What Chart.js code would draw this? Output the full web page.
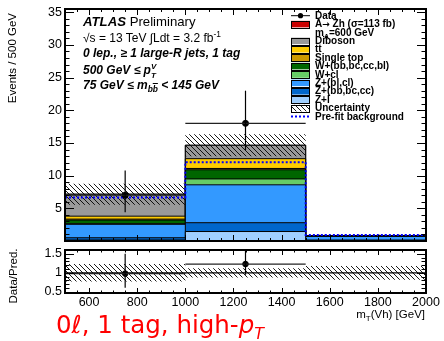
<!DOCTYPE html>
<html><head><meta charset="utf-8">
<script src="https://cdn.jsdelivr.net/npm/chart.js@4.4.0/dist/chart.umd.min.js"></script>
<style>
html,body{margin:0;padding:0;background:#fff;}
#wrap{position:relative;width:444px;height:341px;overflow:hidden;font-family:"Liberation Sans",Arial,sans-serif;color:#000;}
#c1{position:absolute;left:0;top:0;}
#c2{position:absolute;left:0;top:245px;}
.t{position:absolute;white-space:nowrap;line-height:1;}
.bi{font-weight:bold;font-style:italic;}
sub,sup{font-size:70%;line-height:0;}
.lg{position:absolute;left:315px;font-size:10px;font-weight:bold;line-height:10px;white-space:nowrap;}
.arr{font-family:'DejaVu Sans',sans-serif;font-size:9px;}
</style></head><body>
<div id="wrap">
<canvas id="c1" width="444" height="250"></canvas>
<canvas id="c2" width="444" height="96"></canvas>

<div class="t" style="left:5px;top:123px;width:110px;text-align:right;font-size:11.5px;line-height:14px;transform-origin:0 0;transform:rotate(-90deg);">Events / 500 GeV</div>
<div class="t" style="left:6px;top:314px;width:76px;text-align:center;font-size:11.5px;line-height:14px;transform-origin:0 0;transform:rotate(-90deg);">Data/Pred.</div>

<div class="t" style="left:83px;top:15px;font-size:13.2px;"><span class="bi">ATLAS</span> Preliminary</div>
<div class="t" style="left:83px;top:32px;font-size:12px;">&#8730;s = 13 TeV &#8747;Ldt = 3.2 fb<sup>-1</sup></div>
<div class="t bi" style="left:83px;top:47px;font-size:12px;">0 lep., &#8805; 1 large-R jets, 1 tag</div>
<div class="t bi" style="left:83px;top:62px;font-size:12px;">500 GeV &#8804; p<span style="display:inline-block;vertical-align:-4px;line-height:9px;font-size:8px;">V<br>T</span></div>
<div class="t bi" style="left:83px;top:79px;font-size:12px;">75 GeV &#8804; m<sub>b<span style="text-decoration:overline">b</span></sub> &lt; 145 GeV</div>

<div class="lg" style="top:10.7px;">Data</div>
<div class="lg" style="top:19.1px;">A<span class="arr">&#8594;</span> Zh (&#963;=113 fb)</div>
<div class="lg" style="top:27.5px;">m<sub>A</sub>=600 GeV</div>
<div class="lg" style="top:35.9px;">Diboson</div>
<div class="lg" style="top:44.3px;">tt</div>
<div class="lg" style="top:52.7px;">Single top</div>
<div class="lg" style="top:61.1px;">W+(bb,bc,cc,bl)</div>
<div class="lg" style="top:69.5px;">W+cl</div>
<div class="lg" style="top:77.9px;">Z+(bl,cl)</div>
<div class="lg" style="top:86.3px;">Z+(bb,bc,cc)</div>
<div class="lg" style="top:94.7px;">Z+l</div>
<div class="lg" style="top:103.1px;">Uncertainty</div>
<div class="lg" style="top:111.5px;">Pre-fit background</div>

<div class="t" style="right:19px;top:309px;font-size:11.5px;">m<sub>T</sub>(Vh) [GeV]</div>
<div class="t" style="left:56px;top:313px;font-size:24.5px;font-family:'DejaVu Sans',sans-serif;color:#ff0000;">0&#8467;, 1 tag, high-<i>p</i><sub style="font-style:italic;font-size:65%;">T</sub></div>
</div>
<script>
// ---------------- data ----------------
const binEdges   = [500, 1000, 1500, 2000];
const zLight     = [0.15, 1.45, 0.05];
const zHeavy     = [0.35, 1.35, 0.10];
const zBlCl      = [2.05, 5.80, 0.55];
const wCl        = [0.10, 0.90, 0.00];
const wHeavy     = [0.55, 1.40, 0.05];
const singleTop  = [0.15, 0.20, 0.00];
const ttbar      = [0.45, 1.50, 0.05];
const diboson    = [3.36, 2.05, 0.00];
const signalAZh  = [0.00, 0.00, 0.00];
const bkgUncert  = [1.60, 1.70, 0.14];
const prefitBkg  = [6.65, 12.05, 0.90];
const dataCounts = [7, 18, 0];
const dataErrLo  = [2.60, 4.10, 0];
const dataErrHi  = [3.80, 5.00, 0];
const ratioVals  = [0.98, 1.23, null];
const ratioErrLo = [0.37, 0.28, 0];
const ratioErrHi = [0.52, 0.35, 0];
const ratioBand  = [0.23, 0.12, 0.18];
const yTicksMain = [5, 10, 15, 20, 25, 30, 35];
const yTicksRatio = [0.5, 1, 1.5];
const xTickLabels = [600, 800, 1000, 1200, 1400, 1600, 1800, 2000];

// ---------------- helpers ----------------
const FONT = "'Liberation Sans', Arial, sans-serif";
function stepPts(vals){
  const p = vals.map((v,i)=>({x:binEdges[i], y:v}));
  p.push({x:binEdges[binEdges.length-1], y:vals[vals.length-1]});
  return p;
}
const centers = binEdges.slice(0,-1).map((e,i)=>(e+binEdges[i+1])/2);

function makeHatch(){
  const s = 5, c = document.createElement('canvas');
  c.width = s; c.height = s;
  const g = c.getContext('2d');
  g.strokeStyle = '#000'; g.lineWidth = 0.9;
  g.beginPath();
  g.moveTo(-1,-1); g.lineTo(s+1,s+1);
  g.moveTo(-1,s-1); g.lineTo(1,s+1);
  g.moveTo(s-1,-1); g.lineTo(s+1,1);
  g.stroke();
  return g.createPattern(c,'repeat');
}
const ctx1 = document.getElementById('c1').getContext('2d');
const hatch = makeHatch();

const components = [
  {label:'Z+l', vals:zLight, color:'#a0cfff'},
  {label:'Z+(bb,bc,cc)', vals:zHeavy, color:'#0066cc'},
  {label:'Z+(bl,cl)', vals:zBlCl, color:'#3399ff'},
  {label:'W+cl', vals:wCl, color:'#66cc66'},
  {label:'W+(bb,bc,cc,bl)', vals:wHeavy, color:'#006600'},
  {label:'Single top', vals:singleTop, color:'#cc9900'},
  {label:'tt', vals:ttbar, color:'#ffcc00'},
  {label:'Diboson', vals:diboson, color:'#999999'},
  {label:'A→Zh', vals:signalAZh, color:'#cc0000'}
];
let cum = [0,0,0];
const datasets = [];
components.forEach((c,i)=>{
  cum = cum.map((v,k)=>v + c.vals[k]);
  datasets.push({
    label:c.label, data:stepPts(cum.slice()), stepped:'before',
    fill: i===0 ? 'origin' : '-1',
    backgroundColor:c.color, borderColor:'#000', borderWidth:1,
    pointRadius:0, order: 10 + i
  });
});
const total = cum.slice();
datasets.push({label:'uncLo', data:stepPts(total.map((v,k)=>v-bkgUncert[k])), stepped:'before',
  fill:false, borderColor:'rgba(0,0,0,0)', borderWidth:0, pointRadius:0, order:3});
datasets.push({label:'Uncertainty', data:stepPts(total.map((v,k)=>v+bkgUncert[k])), stepped:'before',
  fill:'-1', backgroundColor:hatch, borderColor:'rgba(0,0,0,0)', borderWidth:0, pointRadius:0, order:2});
datasets.push({label:'Pre-fit background', data:stepPts(prefitBkg), stepped:'before', fill:false,
  borderColor:'#0000ff', borderWidth:2, borderDash:[2,2], pointRadius:0, order:1});
datasets.push({label:'Data', data:centers.map((x,i)=>({x, y:dataCounts[i]})).filter(p=>p.y>0),
  showLine:false, pointRadius:3, pointBackgroundColor:'#000', pointBorderColor:'#000', order:0});

function line(ctx,x1,y1,x2,y2){ctx.beginPath();ctx.moveTo(x1,y1);ctx.lineTo(x2,y2);ctx.stroke();}

const frame = {
  id:'frame',
  afterDraw(chart, args, o){
    const {ctx, chartArea:a, scales:{x,y}} = chart;
    ctx.save();
    ctx.strokeStyle = '#000'; ctx.lineWidth = 1;
    for(let v=500; v<=2000; v+=50){
      const px = Math.round(x.getPixelForValue(v))+0.5;
      const L = (v%200===0) ? o.xMaj : o.xMin;
      line(ctx,px,a.bottom,px,a.bottom-L);
      line(ctx,px,a.top,px,a.top+L);
    }
    const n = Math.round((y.max - o.yFirst)/o.yStep);
    for(let k=0;k<=n;k++){
      const v = o.yFirst + k*o.yStep;
      if (v > y.max + 1e-9 || v < y.min - 1e-9) continue;
      const py = Math.round(y.getPixelForValue(v))+0.5;
      const major = Math.abs(v/o.yMajStep - Math.round(v/o.yMajStep)) < 1e-6;
      const L = major ? o.yMaj : o.yMin;
      line(ctx,a.left,py,a.left+L,py);
      line(ctx,a.right,py,a.right-L,py);
    }
    ctx.lineWidth = 2;
    ctx.strokeRect(a.left, a.top, a.right-a.left, a.bottom-a.top);
    ctx.restore();
  }
};

function errBarsPlugin(vals, lo, hi){
  return {
    id:'errbars',
    afterDatasetsDraw(chart){
      const {ctx, chartArea:a, scales:{x,y}} = chart;
      ctx.save();
      ctx.beginPath(); ctx.rect(a.left,a.top,a.right-a.left,a.bottom-a.top); ctx.clip();
      ctx.lineWidth=1.2;
      vals.forEach((v,i)=>{
        if(!v) return;
        const cx = x.getPixelForValue(centers[i]);
        const py = y.getPixelForValue(v);
        ctx.strokeStyle='#222';
        line(ctx, x.getPixelForValue(binEdges[i]), py, x.getPixelForValue(binEdges[i+1]), py);
        ctx.strokeStyle='#000';
        line(ctx, cx, y.getPixelForValue(v+hi[i]), cx, y.getPixelForValue(v-lo[i]));
      });
      ctx.restore();
    }
  };
}

const legendSyms = {
  id:'legendSyms',
  afterDraw(chart){
    const ctx = chart.ctx;
    ctx.save();
    const x0 = 291, w = 19, h = 6.5;
    const rows = [
      {t:'data'}, {t:'box', c:'#cc0000'}, {t:'none'}, {t:'box', c:'#999999'},
      {t:'box', c:'#ffcc00'}, {t:'box', c:'#cc9900'}, {t:'box', c:'#006600'},
      {t:'box', c:'#66cc66'}, {t:'box', c:'#3399ff'}, {t:'box', c:'#0066cc'},
      {t:'box', c:'#a0cfff'}, {t:'hatch'}, {t:'dash'}
    ];
    rows.forEach((r,i)=>{
      const cy = 15.7 + 8.4*i;
      if(r.t==='box' || r.t==='hatch'){
        ctx.fillStyle = r.t==='box' ? r.c : hatch;
        ctx.fillRect(x0, cy-h/2, w, h);
        ctx.strokeStyle='#000'; ctx.lineWidth=1;
        ctx.strokeRect(x0+0.5, Math.round(cy-h/2)+0.5, w-1, Math.round(h));
      } else if(r.t==='data'){
        ctx.strokeStyle='#000'; ctx.lineWidth=1;
        line(ctx, x0, cy, x0+w, cy);
        ctx.fillStyle='#000'; ctx.beginPath(); ctx.arc(x0+w/2, cy, 2.6, 0, Math.PI*2); ctx.fill();
      } else if(r.t==='dash'){
        ctx.strokeStyle='#0000ff'; ctx.lineWidth=2; ctx.setLineDash([2,2]);
        line(ctx, x0, cy, x0+w, cy); ctx.setLineDash([]);
      }
    });
    ctx.restore();
  }
};

const plainLabel = v => String(v);
function fixY(a){ a.width = 65; a.paddingTop = 0; a.paddingBottom = 0; }

new Chart(ctx1, {
  type:'line',
  data:{datasets},
  options:{
    responsive:false, animation:false, events:[],
    layout:{padding:{top:9, bottom:9, right:18, left:0}},
    plugins:{legend:{display:false}, tooltip:{enabled:false},
      frame:{xMaj:6, xMin:3, yFirst:0, yStep:1, yMajStep:5, yMaj:9, yMin:4.5}},
    scales:{
      x:{type:'linear', min:500, max:2000, grid:{display:false, drawTicks:false}, border:{display:false},
         ticks:{display:false}, afterFit(a){a.height=0; a.paddingLeft=0; a.paddingRight=0;}},
      y:{type:'linear', min:0, max:35.5, grid:{display:false, drawTicks:false}, border:{display:false},
         afterBuildTicks(a){a.ticks = yTicksMain.map(v=>({value:v}));},
         ticks:{color:'#000', padding:3, font:{family:FONT, size:12.5}, callback:plainLabel},
         afterFit:fixY}
    }
  },
  plugins:[frame, errBarsPlugin(dataCounts, dataErrLo, dataErrHi), legendSyms]
});

// ---------------- ratio panel ----------------
const ctx2 = document.getElementById('c2').getContext('2d');
new Chart(ctx2, {
  type:'line',
  data:{datasets:[
    {label:'one', data:[{x:500,y:1},{x:2000,y:1}], borderColor:'#000', borderWidth:1.2, pointRadius:0, fill:false, order:1},
    {label:'bandLo', data:stepPts(ratioBand.map(v=>1-v)), stepped:'before', fill:false,
      borderColor:'rgba(0,0,0,0)', borderWidth:0, pointRadius:0, order:3},
    {label:'band', data:stepPts(ratioBand.map(v=>1+v)), stepped:'before', fill:'-1',
      backgroundColor:hatch, borderColor:'rgba(0,0,0,0)', borderWidth:0, pointRadius:0, order:2},
    {label:'ratio', data:centers.map((x,i)=>({x, y:ratioVals[i]})).filter(p=>p.y!==null),
      showLine:false, pointRadius:2.8, pointBackgroundColor:'#000', pointBorderColor:'#000', order:0}
  ]},
  options:{
    responsive:false, animation:false, events:[],
    layout:{padding:{top:5, bottom:0, right:18, left:0}},
    plugins:{legend:{display:false}, tooltip:{enabled:false},
      frame:{xMaj:5, xMin:2.5, yFirst:0.5, yStep:0.1, yMajStep:0.5, yMaj:9, yMin:4.5}},
    scales:{
      x:{type:'linear', min:500, max:2000, grid:{display:false, drawTicks:false}, border:{display:false},
         afterBuildTicks(a){a.ticks = xTickLabels.map(v=>({value:v}));},
         ticks:{color:'#000', padding:2, maxRotation:0, autoSkip:false, font:{family:FONT, size:12.5}, callback:plainLabel},
         afterFit(a){a.height=48; a.paddingLeft=0; a.paddingRight=0;}},
      y:{type:'linear', min:0.47, max:1.6, grid:{display:false, drawTicks:false}, border:{display:false},
         afterBuildTicks(a){a.ticks = yTicksRatio.map(v=>({value:v}));},
         ticks:{color:'#000', padding:3, font:{family:FONT, size:12.5}, callback:plainLabel},
         afterFit:fixY}
    }
  },
  plugins:[frame, errBarsPlugin(ratioVals, ratioErrLo, ratioErrHi)]
});
</script>
</body></html>
